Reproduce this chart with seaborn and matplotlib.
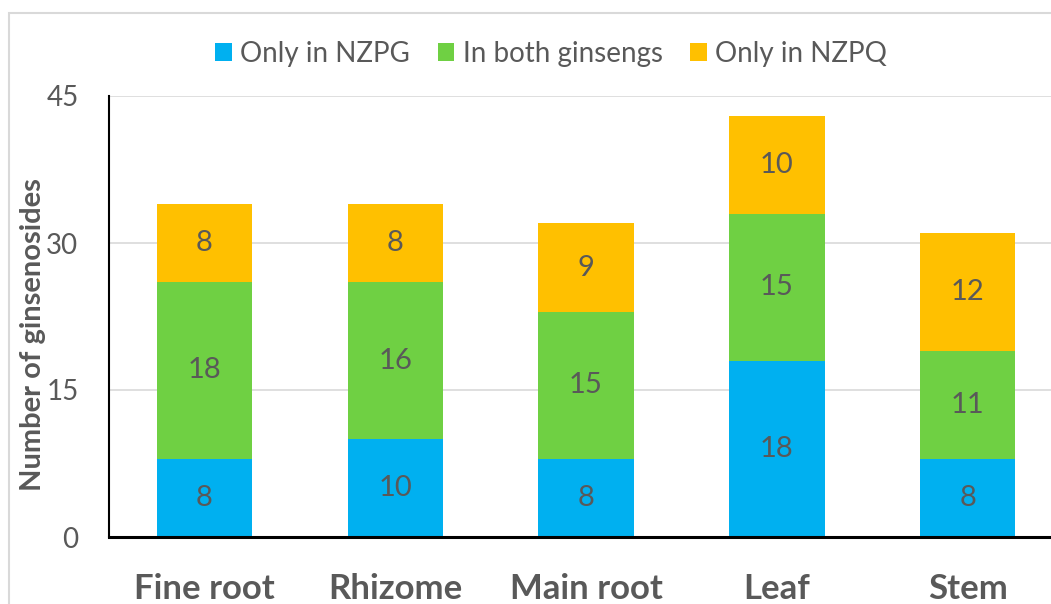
import numpy as np
import pandas as pd
import matplotlib
matplotlib.use("Agg")
import matplotlib.pyplot as plt
from matplotlib.patches import Rectangle
import seaborn as sns

# Data
tissues = ["Fine root", "Rhizome", "Main root", "Leaf", "Stem"]
only_nzpg = [8, 10, 8, 18, 8]
both = [18, 16, 15, 15, 11]
only_nzpq = [8, 8, 9, 10, 12]
series_names = ["Only in NZPG", "In both ginsengs", "Only in NZPQ"]
colors = ["#00B0F0", "#6FD043", "#FFC000"]
y_ticks = [0, 15, 30, 45]

sns.set_theme(style="white")
plt.rcParams["font.family"] = ["Lato", "DejaVu Sans"]
GRAY = "#595959"

fig = plt.figure(figsize=(10.51, 6.04), dpi=100)
ax = fig.add_axes([109 / 1051, 1 - 537 / 604, 954 / 1051, 441 / 604])

df = pd.DataFrame({"tissue": tissues, series_names[0]: only_nzpg,
                   series_names[1]: both, series_names[2]: only_nzpq})

bottom = np.zeros(len(tissues))
for name, col in zip(series_names, colors):
    sns.barplot(data=df, x="tissue", y=name, color=col, width=0.5,
                bottom=bottom, ax=ax, label=name, saturation=1, linewidth=0)
    bottom = bottom + df[name].values

for cont in ax.containers:
    ax.bar_label(cont, label_type="center", color=GRAY, fontsize=21)

ax.set_xlim(-0.5, 4.5)
ax.set_ylim(0, 45)
ax.set_yticks(y_ticks)
ax.yaxis.grid(True, color="#D9D9D9", linewidth=1.2)
ax.set_axisbelow(True)
ax.tick_params(axis="y", length=0, pad=22, labelsize=20, labelcolor=GRAY)
ax.tick_params(axis="x", length=0, pad=26, labelsize=25, labelcolor=GRAY)
for lab in ax.get_xticklabels():
    lab.set_fontweight("bold")
ax.set_xlabel("")
ax.set_ylabel("Number of ginsenosides", fontsize=21, fontweight="bold", color=GRAY)
ax.yaxis.set_label_coords(-0.066, 0.458)

for s in ["top", "right"]:
    ax.spines[s].set_visible(False)
ax.spines["left"].set_color("black")
ax.spines["left"].set_linewidth(1.5)
ax.spines["bottom"].set_color("black")
ax.spines["bottom"].set_linewidth(2.2)

handles, labels = ax.get_legend_handles_labels()
if ax.legend_:
    ax.legend_.remove()
fig.legend(handles, labels, loc="center", bbox_to_anchor=(551 / 1051, 1 - 54 / 604),
           ncol=3, frameon=False, fontsize=20, labelcolor=GRAY,
           handlelength=0.6, handleheight=0.6, handletextpad=0.3, columnspacing=1.0)

# outer chart border (cropped at right/bottom)
fig.patches.append(Rectangle((9 / 1051, -0.1), 1.2, 1.1 - 13 / 604, transform=fig.transFigure,
                             fill=False, edgecolor="#D9D9D9", linewidth=1.5))

fig.savefig("out.png", dpi=100)
